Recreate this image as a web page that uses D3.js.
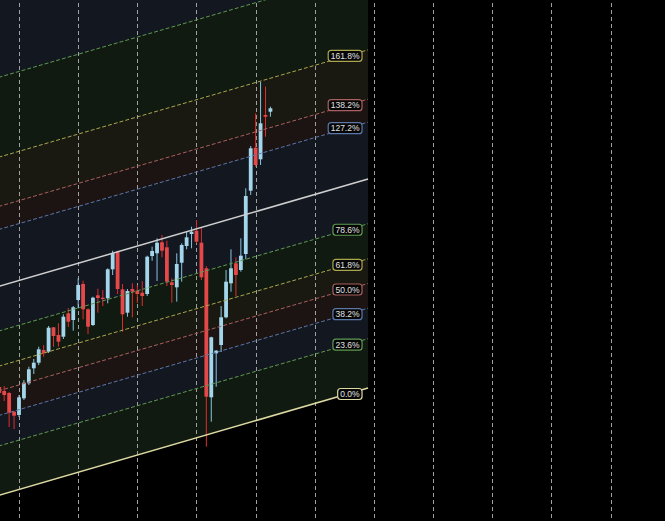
<!DOCTYPE html>
<html><head><meta charset="utf-8">
<script src="https://cdn.jsdelivr.net/npm/d3@7"></script>
<style>html,body{margin:0;padding:0;background:#000;overflow:hidden}</style>
</head><body><svg id="c" width="665" height="521"></svg>
<script>
// ---- data ----
const firstBar = -4;
const opens  = [2034,2030,2028,2009.3,2006,2022.7,2037.7,2052.7,2058.3,2071,2069.3,2093.7,2086,2084.3,2107.7,2101,2121,2137,2111.7,2096,2125.7,2123.3,2122.7,2151.7,2169,2131.7,2108.3,2132,2130.3,2128.3,2127,2165,2167.7,2178.7,2173.7,2138.7,2133.7,2158.3,2175,2187,2190.3,2178.3,2152.7,2023.7,2067.7,2076,2103.7,2137.7,2157.7,2151,2167,2230.3,2273.3,2261.7,2306,2309.3];
const highs  = [2035,2035,2029,2010,2026,2041,2054.3,2062,2074.3,2076,2095,2094,2097.7,2106.7,2113,2115,2142.7,2140.3,2112.7,2124.3,2132.3,2131,2152.7,2170.3,2170.3,2137,2132,2137.7,2136,2140,2165.3,2174.3,2182.7,2186,2180.3,2142.7,2167.7,2177.7,2189.3,2194.3,2201,2194,2155,2084.3,2071,2115,2151,2171.7,2163.7,2182.7,2232.7,2275,2307.7,2339.3,2334.3,2314.3];
const lows   = [2026,2020,1994,1992,2004,2021,2036,2047,2056,2064.3,2068,2074.3,2074.3,2082,2094,2090.3,2112.7,2101.7,2087,2095,2108.3,2115,2117.7,2146,2127,2089.3,2104.3,2103.7,2118,2115,2125,2160.3,2140,2163.7,2135,2118.3,2119.3,2139.3,2171.7,2172.7,2177.7,2141,1974.3,1999.3,2034.3,2069,2102.7,2129.3,2125,2149.3,2161.7,2226,2254.3,2256,2284.3,2304.3];
const closes = [2028,2026,2008.3,2005.3,2023.7,2038.3,2051.7,2058.3,2071.7,2067.7,2093.3,2085,2079.3,2104.3,2099.3,2113.7,2136,2111.7,2094.3,2123.3,2123,2122,2151.7,2167.7,2132,2106.7,2130,2129.3,2127,2125,2164.3,2170,2178.3,2170.3,2139.3,2136,2157,2176,2183.7,2189.3,2179.3,2143.7,2024.3,2083.7,2070.3,2103.7,2139.3,2152.7,2146,2165.3,2225,2272.7,2256,2297.7,2304.3,2312.7];

const levels      = [0, 0.236, 0.382, 0.5, 0.618, 0.786, 1, 1.272, 1.382, 1.618, 2, 2.618];
const levelLabels = ["0.0%","23.6%","38.2%","50.0%","61.8%","78.6%","","127.2%","138.2%","161.8%","",""];
const channelStartBar = -10, channelStartPrice = 1917.2;
const channelEndBar = 70.8,  channelEndPrice = 2033;
const channelWidth = 209;
const gridBars = [0,12,24,36,48,60,72,84,96,108,120];

// ---- style ----
const W = 665, H = 521;
const lineColor = {0:"#dcd9a2",0.236:"#5e9a52",0.382:"#5b78a8",0.5:"#a8615f",0.618:"#aaa650",0.786:"#5e9a52",1:"#cfcfcf",1.272:"#5b78a8",1.382:"#a8615f",1.618:"#aaa650",2:"#5e9a52",2.618:"#5b78a8"};
const bandFill = ["#111a11","#131720","#1c1313","#1a1911","#111a11","#131720","#131720","#1c1313","#1a1911","#111a11","#131720"];
const upCol = "#a3d6ea", upWick = "#86c6e0", dnCol = "#e44848", dnWick = "#e02c2c";

const x = d3.scaleLinear().domain([0, 120]).range([19, 19 + 120 * 4.93]);
const y = d3.scaleLinear().domain([1900, 2421]).range([521, 0]);

const svg = d3.select("#c");
svg.append("rect").attr("width", W).attr("height", H).attr("fill", "#000");

const x0 = x(channelStartBar), x1 = x(channelEndBar);
const ly = (lv, end) => y((end ? channelEndPrice : channelStartPrice) + lv * channelWidth);

// bands
const gB = svg.append("g");
for (let k = 0; k < levels.length - 1; k++) {
  const a = levels[k], b = levels[k + 1];
  gB.append("path")
    .attr("d", `M${x0},${ly(a,0)}L${x1},${ly(a,1)}L${x1},${ly(b,1)}L${x0},${ly(b,0)}Z`)
    .attr("fill", bandFill[k]);
}
gB.append("path")
  .attr("d", `M${x0},${ly(levels[levels.length-1],0)}L${x1},${ly(levels[levels.length-1],1)}L${x1},0L${x0},0Z`)
  .attr("fill", bandFill[bandFill.length-1]);

// grid
svg.append("g").selectAll("line").data(gridBars).join("line")
  .attr("x1", d => Math.round(x(d)) + 0.5).attr("x2", d => Math.round(x(d)) + 0.5)
  .attr("y1", 3).attr("y2", H)
  .attr("stroke", "#a0a0a0").attr("stroke-width", 1).attr("stroke-dasharray", "4,3");

// candles
const bars = opens.map((o, k) => ({i: firstBar + k, o, h: highs[k], l: lows[k], c: closes[k]}));
const gC = svg.append("g");
gC.selectAll("line").data(bars).join("line")
  .attr("x1", d => x(d.i)).attr("x2", d => x(d.i))
  .attr("y1", d => y(d.h)).attr("y2", d => y(d.l))
  .attr("stroke", d => d.c >= d.o ? upWick : dnWick).attr("stroke-width", 1);
gC.selectAll("rect").data(bars).join("rect")
  .attr("x", d => x(d.i) - 1.9).attr("width", 3.8)
  .attr("y", d => y(Math.max(d.o, d.c)))
  .attr("height", d => Math.max(1.2, Math.abs(y(d.o) - y(d.c))))
  .attr("fill", d => d.c >= d.o ? upCol : dnCol);

// level lines
const gL = svg.append("g");
levels.forEach(lv => {
  const solid = (lv === 0 || lv === 1);
  gL.append("line")
    .attr("x1", x0).attr("y1", ly(lv,0)).attr("x2", x1).attr("y2", ly(lv,1))
    .attr("stroke", lineColor[lv]).attr("stroke-width", solid ? 1.5 : 1)
    .attr("stroke-dasharray", solid ? null : "4,2");
});

// labels
const gT = svg.append("g");
levels.forEach((lv, k) => {
  const t = levelLabels[k];
  if (!t) return;
  const cy = ly(lv,1) + 6;
  const g = gT.append("g");
  const txt = g.append("text").text(t)
    .attr("font-family", "Liberation Sans, Arial, sans-serif").attr("font-size", 8.5)
    .attr("fill", "#e2e2e2").attr("text-anchor", "end")
    .attr("x", x1 - 8.5).attr("y", cy + 3);
  const w = txt.node().getComputedTextLength();
  g.insert("rect", "text")
    .attr("x", x1 - 8.5 - w - 2.5).attr("y", cy - 5.5)
    .attr("width", w + 5).attr("height", 11).attr("rx", 3)
    .attr("fill", "#050505").attr("stroke", lineColor[lv]).attr("stroke-width", 1.2);
});
</script>
</body></html>
